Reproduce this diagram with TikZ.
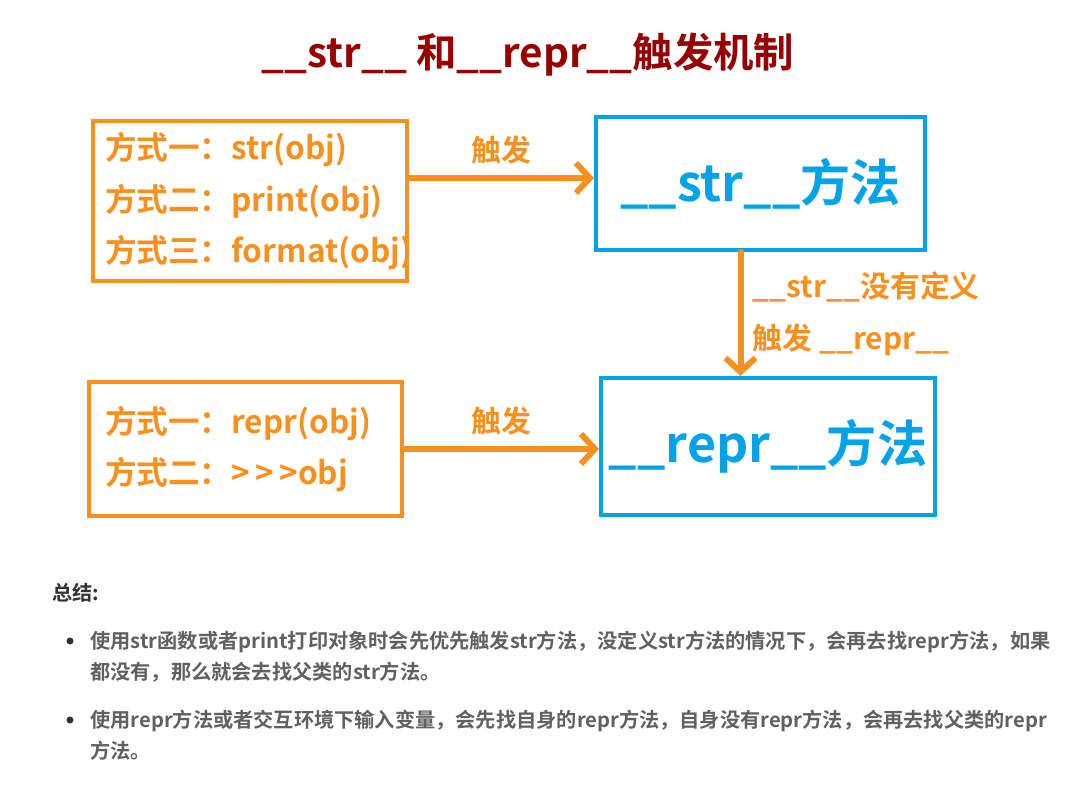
\documentclass[tikz,border=0pt]{standalone}
\usepackage{fontspec}
\setmainfont{Noto Sans CJK SC}[BoldFont={Noto Sans CJK SC Bold}]
\usetikzlibrary{arrows.meta,positioning}
\definecolor{orng}{HTML}{F7901E}
\definecolor{sky}{HTML}{00A2E8}
\definecolor{maroon}{HTML}{960000}
\definecolor{ink}{HTML}{333333}
\definecolor{grey}{HTML}{606060}
\tikzset{
  callbox/.style={draw=orng,line width=2.3pt,text=orng,font=\fontsize{18}{29.5}\selectfont\bfseries,align=left},
  methodbox/.style={draw=sky,line width=2.3pt,text=sky,font=\fontsize{28.5}{34}\selectfont\bfseries},
  trigger/.style={-{Straight Barb[length=2.8mm,width=6mm]},line width=3.4pt,draw=orng,line cap=round,line join=round},
  triglabel/.style={text=orng,font=\fontsize{17}{30}\selectfont\bfseries},
  bulletdot/.style={circle,fill=black!80,inner sep=0pt,minimum size=4pt},
  notetext/.style={text=grey,font=\fontsize{11.5}{17.6}\selectfont\bfseries,align=left,anchor=west,inner sep=0pt}
}
\begin{document}
\begin{tikzpicture}[x=0.02cm,y=-0.02cm]
  \useasboundingbox (0,0) rectangle (1085,800);
  \node[font=\fontsize{23}{28}\selectfont\bfseries,text=maroon] (title) at (528,55) {\_\_str\_\_ 和\_\_repr\_\_触发机制};

  \node[callbox,inner xsep=0.24cm,text width=5.8cm,minimum height=3.2cm] (strcalls) at (250,201) {方式一：str(obj)\\方式二：print(obj)\\方式三：format(obj)};
  \node[methodbox,minimum width=6.58cm,minimum height=2.66cm] (strm) at (760.5,183.5) {\_\_str\_\_方法};
  \node[methodbox,minimum width=6.68cm,minimum height=2.74cm] (reprm) at (768,446.5) {\_\_repr\_\_方法};
  \node[callbox,inner xsep=0.32cm,text width=5.62cm,minimum height=2.68cm] (reprcalls) at (245.5,449) {方式一：repr(obj)\\方式二：>\,>\,>obj};

  \draw[trigger] ([yshift=0.11cm]strm.west -| strcalls.east) -- ([yshift=0.11cm]strm.west) node[triglabel,midway,above=3pt] (trig1) {触发};
  \draw[trigger] (reprcalls.east) -- (reprcalls.east -| reprm.west) node[triglabel,midway,above=3pt] (trig2) {触发};
  \draw[trigger] ([xshift=-0.4cm]strm.south) -- ([xshift=-0.4cm]strm.south |- reprm.north)
    node[triglabel,midway,right=2pt,align=left] (why) {\_\_str\_\_没有定义\\触发 \_\_repr\_\_};

  \node[font=\fontsize{11.5}{14}\selectfont\bfseries,text=ink,anchor=west,inner sep=0pt] (sumhead) at (52,593) {总结:};
  \node[bulletdot] (dot1) at (70,641) {};
  \node[notetext] (note1) at (90,656.5) {使用str函数或者print打印对象时会先优先触发str方法，没定义str方法的情况下，会再去找repr方法，如果\\都没有，那么就会去找父类的str方法。};
  \node[bulletdot] (dot2) at (70,720) {};
  \node[notetext] (note2) at (90,735.5) {使用repr方法或者交互环境下输入变量，会先找自身的repr方法，自身没有repr方法，会再去找父类的repr\\方法。};
\end{tikzpicture}
\end{document}
